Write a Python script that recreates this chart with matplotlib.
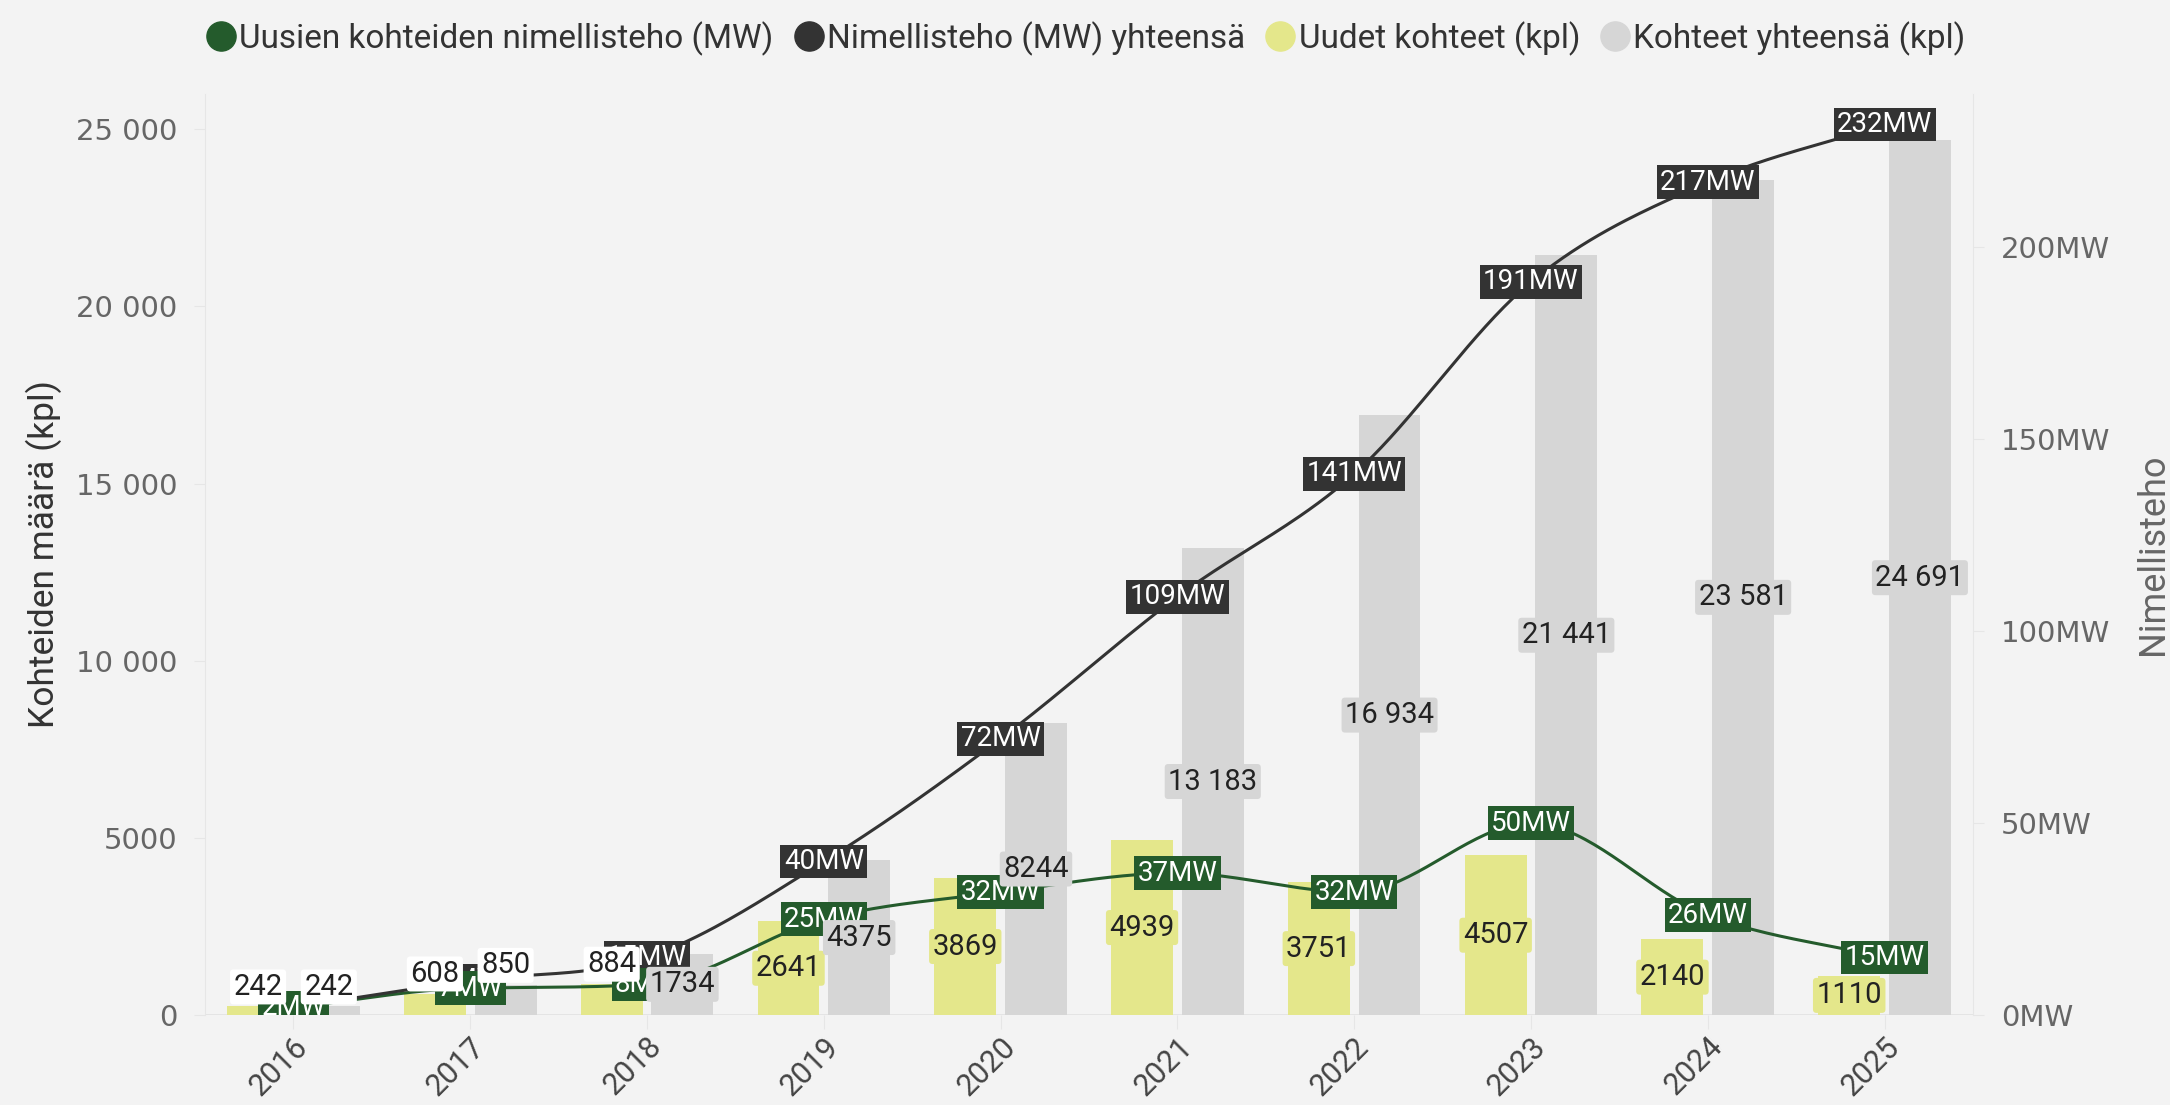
import numpy as np
import matplotlib
matplotlib.use("Agg")
import matplotlib.pyplot as plt
from matplotlib.lines import Line2D

# data
years = ["2016", "2017", "2018", "2019", "2020", "2021", "2022", "2023", "2024", "2025"]
new_sites = [242, 608, 884, 2641, 3869, 4939, 3751, 4507, 2140, 1110]
total_sites = [242, 850, 1734, 4375, 8244, 13183, 16934, 21441, 23581, 24691]
new_mw = [2, 7, 8, 25, 32, 37, 32, 50, 26, 15]
total_mw = [2, 9, 15, 40, 72, 109, 141, 191, 217, 232]

BG = "#f3f3f3"
YELLOW = "#e4e78b"
GRAY = "#d6d6d6"
GREEN = "#245b2c"
DARK = "#333333"
TICK = "#666666"

NARROW = ["Roboto", "DejaVu Sans"]


def fi_num(v):
    # finnish style: 4 digits plain, bigger ones with a space
    v = int(round(v))
    if abs(v) < 10000:
        return str(v)
    return f"{v:,}".replace(",", " ")


def monotone(x, y, n=40):
    """monotone cubic (Fritsch-Carlson) for a smooth line through points"""
    x = np.asarray(x, float)
    y = np.asarray(y, float)
    h = np.diff(x)
    d = np.diff(y) / h
    m = np.zeros_like(y)
    m[0], m[-1] = d[0], d[-1]
    for i in range(1, len(y) - 1):
        if d[i - 1] * d[i] <= 0:
            m[i] = 0
        else:
            m[i] = (d[i - 1] + d[i]) / 2
    for i in range(len(d)):
        if d[i] == 0:
            m[i] = m[i + 1] = 0
            continue
        a, b = m[i] / d[i], m[i + 1] / d[i]
        s = a * a + b * b
        if s > 9:
            t = 3 / np.sqrt(s)
            m[i], m[i + 1] = t * a * d[i], t * b * d[i]
    xs, ys = [], []
    for i in range(len(d)):
        t = np.linspace(0, 1, n)
        h00 = 2 * t**3 - 3 * t**2 + 1
        h10 = t**3 - 2 * t**2 + t
        h01 = -2 * t**3 + 3 * t**2
        h11 = t**3 - t**2
        xs.append(x[i] + t * h[i])
        ys.append(h00 * y[i] + h10 * h[i] * m[i] + h01 * y[i + 1] + h11 * h[i] * m[i + 1])
    return np.concatenate(xs), np.concatenate(ys)


fig = plt.figure(figsize=(21.7, 11.05), dpi=100, facecolor=BG)
ax = fig.add_axes([0.0945, 0.0814, 0.8147, 0.8336])
ax.set_facecolor(BG)
ax2 = ax.twinx()

x = np.arange(len(years))
w = 0.35
ax.bar(x - 0.2, new_sites, w, color=YELLOW, zorder=2)
ax.bar(x + 0.2, total_sites, w, color=GRAY, zorder=2)

ax.set_xlim(-0.5, len(years) - 0.5)
ax.set_ylim(0, 26000)
ax2.set_ylim(0, 240)

# lines
gx, gy = monotone(x, new_mw)
ax2.plot(gx, gy, color=GREEN, lw=2.2, zorder=2)
bx, by = monotone(x, total_mw)
ax2.plot(bx, by, color=DARK, lw=2.2, zorder=2)

for xi, v in zip(x, total_mw):
    t = ax2.text(xi, v, f"{v}MW", ha="center", va="center", color="white", fontsize=20,
                 family=NARROW, zorder=4,
                 bbox=dict(boxstyle="square,pad=0.12", fc=DARK, ec="none"))
    t.set_clip_on(True)
for xi, v in zip(x, new_mw):
    t = ax2.text(xi, v, f"{v}MW", ha="center", va="center", color="white", fontsize=20,
                 family=NARROW, zorder=4.5,
                 bbox=dict(boxstyle="square,pad=0.12", fc=GREEN, ec="none"))
    t.set_clip_on(True)


# bar labels on top of everything
def bar_label(xi, v, fc):
    if v < 1000:
        ax2.annotate(fi_num(v), (xi, v), xycoords=ax.transData, xytext=(0, 4),
                     textcoords="offset points", ha="center", va="bottom",
                     fontsize=21, family=NARROW, color="#222222", zorder=6,
                     bbox=dict(boxstyle="round,pad=0.12", fc="white", ec="none"))
    else:
        ax2.text(xi, v / 2, fi_num(v), transform=ax.transData, ha="center", va="center",
                 fontsize=21, family=NARROW, color="#222222", zorder=6,
                 bbox=dict(boxstyle="round,pad=0.12", fc=fc, ec="none"))


for xi, v in zip(x, new_sites):
    bar_label(xi - 0.2, v, YELLOW)
for xi, v in zip(x, total_sites):
    bar_label(xi + 0.2, v, GRAY)

# axes styling
for a in (ax, ax2):
    for s in a.spines.values():
        s.set_visible(False)
ax.spines["left"].set_visible(True)
ax.spines["left"].set_color("#e6e6e6")
ax2.spines["right"].set_visible(True)
ax2.spines["right"].set_color("#e6e6e6")
ax.axhline(0, color="#e2e2e2", lw=1.2, zorder=1)

ax.set_yticks(np.arange(0, 25001, 5000))
ax.set_yticklabels([fi_num(v) for v in np.arange(0, 25001, 5000)])
ax.tick_params(axis="y", colors="#e6e6e6", labelcolor=TICK, labelsize=21, length=8, pad=12)
ax2.set_yticks(np.arange(0, 201, 50))
ax2.set_yticklabels([f"{v}MW" for v in range(0, 201, 50)])
ax2.tick_params(axis="y", colors="#e6e6e6", labelcolor=TICK, labelsize=21, length=8, pad=12)

ax.set_xticks(x)
ax.set_xticklabels(years, rotation=45, ha="right", va="top", rotation_mode="anchor",
                   family=NARROW, fontsize=22, color="#444444")
ax.tick_params(axis="x", colors="#e6e6e6", labelcolor="#444444", length=10, pad=2)

ax.set_ylabel("Kohteiden määrä (kpl)", family=NARROW, fontsize=25.5, color=DARK, labelpad=10)
ax2.set_ylabel("Nimellisteho", family=NARROW, fontsize=26, color=TICK, rotation=90, labelpad=18)

handles = [
    Line2D([], [], marker="o", ls="none", ms=21, color=GREEN),
    Line2D([], [], marker="o", ls="none", ms=21, color=DARK),
    Line2D([], [], marker="o", ls="none", ms=21, color=YELLOW),
    Line2D([], [], marker="o", ls="none", ms=21, color=GRAY),
]
labels = ["Uusien kohteiden nimellisteho (MW)", "Nimellisteho (MW) yhteensä",
          "Uudet kohteet (kpl)", "Kohteet yhteensä (kpl)"]
leg = fig.legend(handles, labels, loc="upper center", bbox_to_anchor=(0.5, 1.008), ncol=4,
                 frameon=False, handletextpad=0.05, columnspacing=0.55, handlelength=1.0,
                 prop=dict(family=NARROW, size=24))
for t in leg.get_texts():
    t.set_color(DARK)

fig.savefig("out.png", dpi=100, facecolor=BG)
